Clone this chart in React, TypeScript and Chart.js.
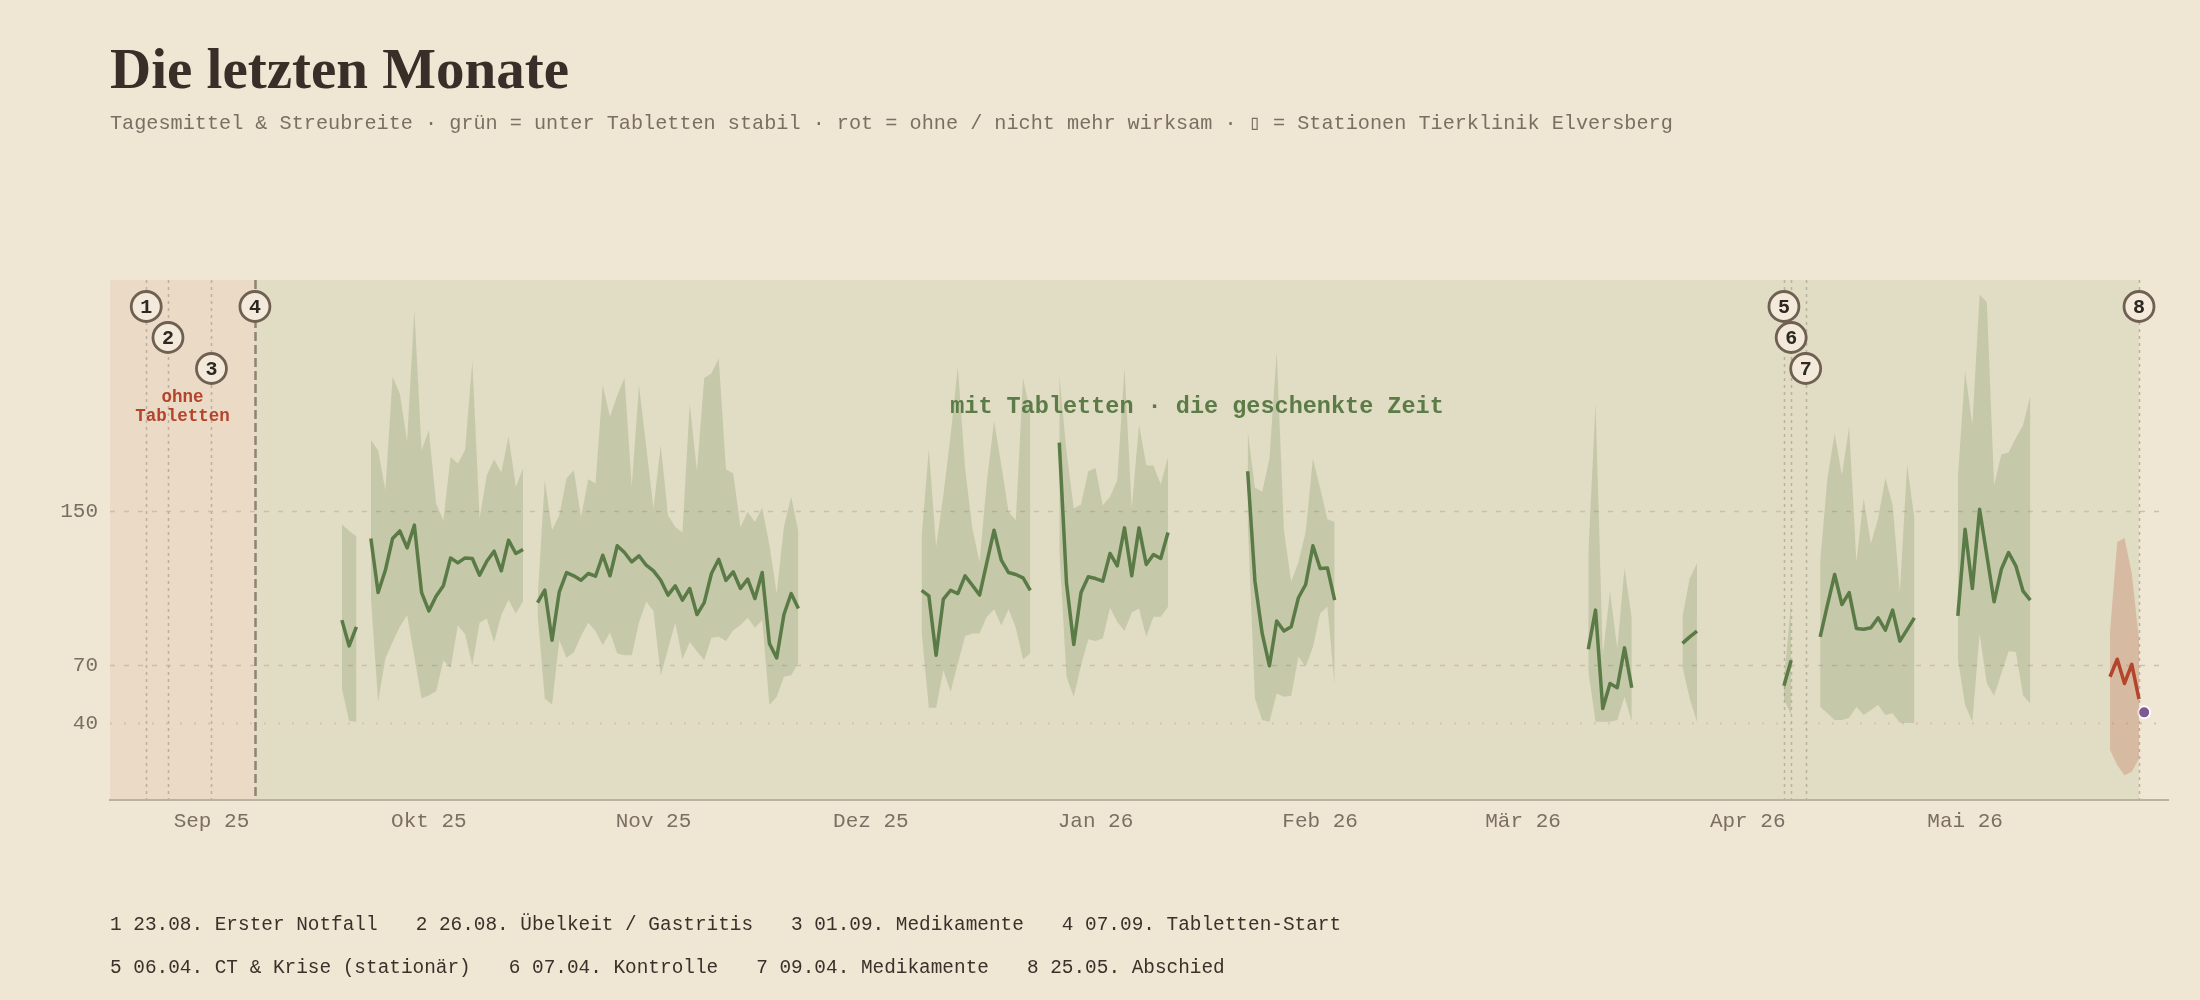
import React, { useEffect, useRef } from "react";
import { Chart, registerables } from "chart.js";

Chart.register(...registerables);

// ---------- data ----------
const ORIGIN = "2025-08-18";
const X_END = "2026-05-29";

const MONTH_TICKS = [
  "2025-09-01", "2025-10-01", "2025-11-01", "2025-12-01", "2026-01-01",
  "2026-02-01", "2026-03-01", "2026-04-01", "2026-05-01",
];
const MONTH_LABELS = ["Sep 25", "Okt 25", "Nov 25", "Dez 25", "Jan 26", "Feb 26", "Mär 26", "Apr 26", "Mai 26"];

const Y_TICKS = [40, 70, 150];
const Y_MAX = 270;

const EVENT_DATES = [
  "2025-08-23", "2025-08-26", "2025-09-01", "2025-09-07",
  "2026-04-06", "2026-04-07", "2026-04-09", "2026-05-25",
];
const EVENT_LEVELS = [0, 1, 2, 0, 0, 1, 2, 0];
const EVENT_TEXTS = [
  "23.08. Erster Notfall",
  "26.08. Übelkeit / Gastritis",
  "01.09. Medikamente",
  "07.09. Tabletten-Start",
  "06.04. CT & Krise (stationär)",
  "07.04. Kontrolle",
  "09.04. Medikamente",
  "25.05. Abschied",
];
const TABLET_START = "2025-09-07";
const TABLET_END = "2026-05-25";

const TITLE = "Die letzten Monate";
const SUBTITLE =
  "Tagesmittel & Streubreite · grün = unter Tabletten stabil · rot = ohne / nicht mehr wirksam · ▯ = Stationen Tierklinik Elversberg";
const LABEL_OHNE = ["ohne", "Tabletten"];
const LABEL_MIT = "mit Tabletten · die geschenkte Zeit";

// green segments (first day of each run of consecutive days)
const SEGMENT_START = [
  "2025-09-19", "2025-09-23", "2025-10-16", "2025-12-08", "2025-12-27",
  "2026-01-22", "2026-03-10", "2026-03-23", "2026-04-06", "2026-04-11", "2026-04-30",
];
const MEAN = [
  [93.4, 80.0, 89.9],
  [135.8, 107.7, 119.3, 135.8, 139.7, 130.9, 142.7, 107.7, 98.2, 105.8, 111.2, 125.7, 123.1, 125.7, 125.4, 116.7, 124.0, 129.2, 119.0, 134.9, 128.0, 130.1],
  [102.5, 109.0, 83.0, 108.1, 118.1, 116.4, 114.1, 117.6, 116.2, 127.1, 116.4, 132.0, 128.5, 123.6, 126.8, 121.9, 119.0, 114.1, 106.4, 111.2, 103.8, 109.8, 96.3, 102.5, 117.6, 125.0, 114.0, 118.5, 109.8, 114.7, 104.6, 118.1, 81.3, 73.8, 96.3, 107.2, 99.4],
  [108.9, 106.0, 75.2, 104.3, 108.9, 107.2, 116.4, 111.5, 106.4, 123.3, 140.1, 124.5, 118.1, 117.1, 115.3, 108.9],
  [185.6, 112.4, 80.7, 107.7, 115.9, 115.0, 113.6, 128.0, 121.6, 141.3, 116.4, 141.3, 122.3, 127.5, 125.4, 138.9],
  [170.7, 113.6, 86.5, 69.7, 92.9, 87.7, 89.9, 105.0, 111.9, 132.0, 120.2, 120.5, 103.8],
  [78.3, 98.6, 47.5, 60.5, 58.3, 79.0, 58.3],
  [81.3, 84.7, 87.7],
  [59.3, 72.6],
  [84.7, 101.2, 117.1, 101.5, 107.7, 89.1, 88.7, 89.4, 94.6, 88.2, 98.6, 82.5, 88.5, 94.6],
  [95.6, 140.6, 109.8, 151.0, 127.1, 102.9, 119.8, 128.5, 121.6, 108.4, 103.8],
];
const HIGH = [
  [143.2, 139.7, 137.0],
  [187.1, 181.3, 160.8, 219.7, 211.0, 185.9, 254.3, 181.6, 192.0, 153.9, 145.3, 178.1, 174.7, 181.6, 227.8, 146.1, 168.6, 176.9, 170.0, 188.9, 162.6, 172.1],
  [104.0, 166.0, 140.1, 147.9, 166.9, 171.2, 147.0, 166.6, 164.3, 215.3, 198.9, 210.2, 219.1, 162.6, 215.3, 183.3, 151.3, 184.2, 147.9, 141.8, 138.9, 205.8, 170.7, 219.1, 221.4, 229.2, 171.7, 169.5, 141.8, 149.6, 144.4, 151.7, 132.3, 107.2, 141.8, 157.4, 139.2],
  [136.6, 182.1, 131.4, 158.3, 189.4, 224.9, 172.1, 141.0, 123.6, 165.2, 196.7, 173.8, 149.6, 145.3, 218.8, 201.5],
  [220.5, 180.7, 151.3, 153.4, 170.7, 172.4, 153.1, 157.4, 166.0, 224.3, 151.3, 194.9, 173.8, 173.5, 163.8, 178.1],
  [191.5, 162.1, 160.0, 177.3, 232.6, 140.1, 113.3, 123.6, 139.2, 177.3, 161.7, 145.8, 144.4],
  [127.1, 205.8, 75.2, 108.1, 78.7, 120.5, 94.2],
  [95.1, 115.0, 122.8],
  [62.2, 102.9],
  [123.6, 166.9, 190.3, 168.6, 193.7, 123.6, 156.5, 133.2, 146.1, 167.2, 153.1, 108.1, 174.2, 146.1],
  [166.9, 222.6, 194.6, 262.4, 258.6, 163.4, 179.4, 180.4, 188.0, 194.6, 209.8],
];
const LOW = [
  [57.9, 41.0, 40.6],
  [105.5, 51.0, 73.5, 82.1, 89.9, 96.0, 74.4, 52.7, 54.4, 56.5, 72.6, 68.6, 90.8, 86.0, 70.0, 92.0, 94.2, 82.1, 96.0, 103.8, 96.8, 103.2],
  [97.0, 52.7, 49.6, 83.0, 73.8, 76.6, 85.2, 92.0, 87.7, 80.4, 87.0, 76.1, 75.2, 75.2, 92.2, 102.9, 98.1, 64.8, 78.3, 92.0, 73.1, 82.1, 77.3, 72.6, 84.2, 84.7, 82.5, 88.2, 90.8, 94.6, 89.4, 93.4, 49.3, 53.6, 64.0, 64.8, 71.4],
  [87.3, 47.9, 47.9, 67.4, 56.2, 70.9, 85.2, 86.5, 86.5, 95.1, 99.1, 90.8, 99.1, 89.4, 73.1, 76.1],
  [130.0, 64.0, 53.6, 70.0, 83.5, 82.5, 83.9, 99.8, 92.5, 87.7, 97.4, 99.4, 84.7, 95.1, 95.1, 100.3],
  [145.0, 52.7, 41.5, 40.6, 55.3, 53.6, 54.1, 74.4, 69.2, 79.5, 96.8, 100.3, 59.6],
  [67.4, 40.6, 40.6, 40.6, 41.5, 53.6, 40.6],
  [69.2, 52.7, 40.6],
  [52.4, 44.1],
  [48.4, 45.0, 41.5, 41.5, 42.7, 48.4, 44.1, 46.7, 49.3, 44.1, 45.0, 40.0, 40.0, 40.0],
  [73.5, 49.3, 40.6, 86.5, 60.5, 54.1, 65.7, 77.3, 76.9, 54.4, 50.1],
];

// red (no longer effective) run
const RED_START = "2026-05-21";
const RED_MEAN = [64.0, 73.1, 60.5, 70.4, 52.4];
const RED_HIGH = [87.3, 134.0, 136.1, 117.6, 83.0];
const RED_LOW = [25.9, 18.1, 12.9, 14.7, 21.6];

// last single reading
const LAST_X = "2026-05-25T17:00";
const LAST_Y = 45.5;

// ---------- styles ----------
const PAGE_BG = "#f0e6d4";
const PINK_BG = "#eadac6";
const GREEN_BG = "#e1dcc4";
const BAND = "rgba(90,122,70,0.2)";
const LINE = "#5b7b47";
const RED = "#b4442b";
const RED_BAND = "rgba(181,67,42,0.22)";
const GRID = "#cbbfad";
const GRID40 = "#dcbfb0";
const AXIS = "#bcb1a1";
const TICK = "#7b6f63";
const EVENT = "#bcb0a0";
const EVENT4 = "#8e8377";
const MONO = '"Liberation Mono", monospace';

function dayIdx(s: string): number {
  const [d, t] = s.split("T");
  const [y, m, dd] = d.split("-").map(Number);
  const [oy, om, od] = ORIGIN.split("-").map(Number);
  let hours = 0;
  if (t) {
    const [h, mi] = t.split(":").map(Number);
    hours = h + (mi || 0) / 60;
  }
  return (Date.UTC(y, m - 1, dd) - Date.UTC(oy, om - 1, od)) / 86400000 + hours / 24;
}

function buildSeries(starts: string[], vals: number[][]) {
  const pts: { x: number; y: number | null }[] = [];
  starts.forEach((s, i) => {
    const x0 = dayIdx(s);
    if (i > 0) pts.push({ x: x0 - 0.5, y: null });
    vals[i].forEach((v, j) => pts.push({ x: x0 + j, y: v }));
  });
  return pts;
}

const decor = {
  id: "decor",
  beforeDraw(chart: any) {
    const { ctx, chartArea: a, scales } = chart;
    const x = scales.x;
    const y = scales.y;
    const xs = x.getPixelForValue(dayIdx(TABLET_START));
    const xe = x.getPixelForValue(dayIdx(TABLET_END));
    ctx.save();
    ctx.fillStyle = PINK_BG;
    ctx.fillRect(a.left, a.top, xs - a.left, a.bottom - a.top);
    ctx.fillStyle = GREEN_BG;
    ctx.fillRect(xs, a.top, xe - xs, a.bottom - a.top);

    // horizontal reference lines
    Y_TICKS.forEach((v) => {
      const py = Math.round(y.getPixelForValue(v)) + 0.5;
      ctx.beginPath();
      if (v === 40) {
        ctx.strokeStyle = GRID40;
        ctx.setLineDash([2, 12]);
        ctx.lineWidth = 2;
      } else {
        ctx.strokeStyle = GRID;
        ctx.setLineDash([5, 9]);
        ctx.lineWidth = 1.5;
      }
      ctx.moveTo(a.left, py);
      ctx.lineTo(a.right, py);
      ctx.stroke();
    });

    // event lines
    EVENT_DATES.forEach((d, i) => {
      const px = Math.round(x.getPixelForValue(dayIdx(d))) + 0.5;
      ctx.beginPath();
      if (i === 3) {
        ctx.strokeStyle = EVENT4;
        ctx.setLineDash([9, 4]);
        ctx.lineWidth = 2.5;
      } else {
        ctx.strokeStyle = EVENT;
        ctx.setLineDash([3, 4]);
        ctx.lineWidth = 1.5;
      }
      ctx.moveTo(px, a.top);
      ctx.lineTo(px, a.bottom);
      ctx.stroke();
    });
    ctx.restore();
  },
  afterDatasetsDraw(chart: any) {
    const { ctx, chartArea: a, scales } = chart;
    const x = scales.x;
    ctx.save();
    ctx.setLineDash([]);
    // region labels
    const xs = x.getPixelForValue(dayIdx(TABLET_START));
    const xe = x.getPixelForValue(dayIdx(TABLET_END));
    ctx.textAlign = "center";
    ctx.textBaseline = "middle";
    ctx.fillStyle = RED;
    ctx.font = `bold 17.5px ${MONO}`;
    ctx.fillText(LABEL_OHNE[0], (a.left + xs) / 2, a.top + 118);
    ctx.fillText(LABEL_OHNE[1], (a.left + xs) / 2, a.top + 137);
    ctx.fillStyle = LINE;
    ctx.font = `bold 23.5px ${MONO}`;
    ctx.fillText(LABEL_MIT, (xs + xe) / 2, a.top + 127);

    // event markers
    EVENT_DATES.forEach((d, i) => {
      const px = x.getPixelForValue(dayIdx(d));
      const py = a.top + 26.5 + EVENT_LEVELS[i] * 31;
      ctx.beginPath();
      ctx.arc(px, py, 15, 0, Math.PI * 2);
      ctx.fillStyle = "#f3eadb";
      ctx.fill();
      ctx.lineWidth = 2.8;
      ctx.strokeStyle = "#6f6052";
      ctx.stroke();
      ctx.fillStyle = "#2f2721";
      ctx.font = `bold 20px ${MONO}`;
      ctx.fillText(String(i + 1), px, py + 1);
    });
    ctx.restore();
  },
};

export default function App() {
  const ref = useRef<HTMLCanvasElement | null>(null);

  useEffect(() => {
    document.body.style.margin = "0";
    document.body.style.background = PAGE_BG;
    const canvas = ref.current;
    if (!canvas) return;

    const chart = new Chart(canvas, {
      type: "line",
      data: {
        datasets: [
          {
            data: buildSeries(SEGMENT_START, HIGH),
            borderWidth: 0,
            pointRadius: 0,
            fill: "+1",
            backgroundColor: BAND,
            spanGaps: false,
          },
          {
            data: buildSeries(SEGMENT_START, LOW),
            borderWidth: 0,
            pointRadius: 0,
            fill: false,
            spanGaps: false,
          },
          {
            data: buildSeries(SEGMENT_START, MEAN),
            borderColor: LINE,
            borderWidth: 3.5,
            pointRadius: 0,
            fill: false,
            spanGaps: false,
            borderJoinStyle: "round",
          },
          {
            data: buildSeries([RED_START], [RED_HIGH]),
            borderWidth: 0,
            pointRadius: 0,
            fill: "+1",
            backgroundColor: RED_BAND,
          },
          {
            data: buildSeries([RED_START], [RED_LOW]),
            borderWidth: 0,
            pointRadius: 0,
            fill: false,
          },
          {
            data: buildSeries([RED_START], [RED_MEAN]),
            borderColor: RED,
            borderWidth: 3.5,
            pointRadius: 0,
            fill: false,
            borderJoinStyle: "round",
          },
          {
            data: [{ x: dayIdx(LAST_X), y: LAST_Y }],
            showLine: false,
            pointRadius: 6,
            pointBackgroundColor: "#7d5a94",
            pointBorderColor: "#ffffff",
            pointBorderWidth: 2,
          },
        ] as any,
      },
      options: {
        responsive: false,
        devicePixelRatio: 1,
        animation: false,
        layout: { padding: { top: 280, right: 32, left: 0, bottom: 0 } },
        plugins: {
          legend: { display: false },
          tooltip: { enabled: false },
          title: { display: false },
        },
        scales: {
          x: {
            type: "linear",
            min: 0,
            max: dayIdx(X_END),
            grid: { display: false, drawTicks: false },
            border: { display: true, color: AXIS, width: 2 },
            afterBuildTicks: (scale: any) => {
              scale.ticks = MONTH_TICKS.map((d) => ({ value: dayIdx(d) }));
            },
            afterFit: (scale: any) => {
              scale.height = 200;
            },
            ticks: {
              autoSkip: false,
              maxRotation: 0,
              padding: 9,
              color: TICK,
              font: { family: "Liberation Mono", size: 21 },
              callback: (_v: any, i: number) => MONTH_LABELS[i],
            },
          },
          y: {
            type: "linear",
            min: 0,
            max: Y_MAX,
            grid: { display: false, drawTicks: false },
            border: { display: false },
            afterBuildTicks: (scale: any) => {
              scale.ticks = Y_TICKS.map((v) => ({ value: v }));
            },
            afterFit: (scale: any) => {
              scale.width = 110;
            },
            ticks: {
              padding: 12,
              color: TICK,
              font: { family: "Liberation Mono", size: 21 },
              callback: (v: any) => String(v),
            },
          },
        },
      } as any,
      plugins: [decor],
    });
    return () => chart.destroy();
  }, []);

  const foot = (from: number, to: number, top: number) => (
    <div
      style={{
        position: "absolute",
        left: 110,
        top,
        font: `19.4px ${MONO}`,
        lineHeight: "24px",
        color: "#3b312a",
        whiteSpace: "pre",
      }}
    >
      {EVENT_TEXTS.slice(from, to).map((t, i) => (
        <span key={i} style={{ marginRight: 38 }}>
          {`${from + i + 1} ${t}`}
        </span>
      ))}
    </div>
  );

  return (
    <div style={{ position: "relative", width: 2200, height: 1000, background: PAGE_BG, overflow: "hidden" }}>
      <canvas ref={ref} width={2200} height={1000} style={{ position: "absolute", left: 0, top: 0, display: "block" }} />
      <div
        style={{
          position: "absolute",
          left: 110,
          top: 40,
          font: 'bold 57px "Liberation Serif", serif',
          lineHeight: "57px",
          color: "#3a2f28",
          whiteSpace: "pre",
        }}
      >
        {TITLE}
      </div>
      <div
        style={{
          position: "absolute",
          left: 110,
          top: 113,
          font: `20.2px ${MONO}`,
          lineHeight: "22px",
          color: "#7b6f63",
          whiteSpace: "pre",
        }}
      >
        {SUBTITLE}
      </div>
      {foot(0, 4, 913)}
      {foot(4, 8, 956)}
    </div>
  );
}
